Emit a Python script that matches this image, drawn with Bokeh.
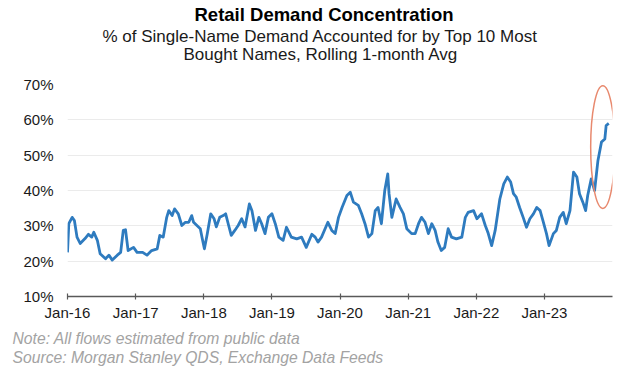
from datetime import datetime
import pandas as pd
from bokeh.plotting import figure
from bokeh.models import (FixedTicker, DatetimeTickFormatter, PrintfTickFormatter,
                          Range1d, Title, ColumnDataSource, LinearAxis,
                          CustomJSTickFormatter)
from bokeh.embed import file_html
from bokeh.resources import INLINE

# ---------------- data ----------------
dates = [
    "2016-01-01", "2016-01-08", "2016-01-26", "2016-02-07", "2016-02-21", "2016-03-09",
    "2016-04-04", "2016-04-22", "2016-05-10", "2016-05-21", "2016-06-09", "2016-06-24",
    "2016-07-23", "2016-08-10", "2016-08-28", "2016-09-24", "2016-10-12", "2016-10-26",
    "2016-11-07", "2016-11-21", "2016-12-20",
    "2017-01-08", "2017-02-07", "2017-03-02", "2017-03-27", "2017-04-26", "2017-05-10",
    "2017-05-28", "2017-06-16", "2017-06-27", "2017-07-15", "2017-07-28", "2017-08-17",
    "2017-09-05", "2017-09-24", "2017-10-12", "2017-10-28", "2017-11-07", "2017-11-25",
    "2017-12-13", "2017-12-24",
    "2018-01-04", "2018-01-19", "2018-02-07", "2018-02-25", "2018-03-09", "2018-03-27",
    "2018-04-15", "2018-04-28", "2018-05-14", "2018-05-28", "2018-06-16", "2018-07-04",
    "2018-07-23", "2018-08-10", "2018-09-02", "2018-09-16", "2018-10-05", "2018-10-23",
    "2018-11-07", "2018-11-25", "2018-12-13",
    "2019-01-01", "2019-01-19", "2019-02-07", "2019-03-02", "2019-03-20", "2019-04-15",
    "2019-05-14", "2019-06-09", "2019-07-04", "2019-08-03", "2019-08-21", "2019-09-05",
    "2019-09-24", "2019-10-28", "2019-11-18", "2019-12-06", "2019-12-24",
    "2020-01-12", "2020-02-07", "2020-02-25", "2020-03-13", "2020-04-08", "2020-04-26",
    "2020-05-14", "2020-06-02", "2020-06-20", "2020-07-08", "2020-07-23", "2020-08-10",
    "2020-08-28", "2020-09-13", "2020-09-20", "2020-10-05", "2020-10-28", "2020-11-18",
    "2020-12-06", "2020-12-24",
    "2021-01-19", "2021-02-07", "2021-02-25", "2021-03-13", "2021-04-01", "2021-04-19",
    "2021-05-07", "2021-05-25", "2021-06-09", "2021-06-27", "2021-07-15", "2021-08-03",
    "2021-08-21", "2021-09-16", "2021-10-15", "2021-11-03", "2021-11-18", "2021-12-17",
    "2022-01-04", "2022-01-29", "2022-02-18", "2022-03-06", "2022-03-24", "2022-04-12",
    "2022-05-07", "2022-05-28", "2022-06-16", "2022-07-04", "2022-07-19", "2022-08-03",
    "2022-08-21", "2022-09-09", "2022-09-27", "2022-10-15", "2022-11-03", "2022-11-21",
    "2022-12-09", "2022-12-24",
    "2023-01-12", "2023-01-26", "2023-02-18", "2023-03-06", "2023-03-24", "2023-04-12",
    "2023-04-28", "2023-05-18", "2023-06-06", "2023-06-24", "2023-07-08", "2023-07-26",
    "2023-08-10", "2023-08-21", "2023-09-09", "2023-09-27", "2023-10-15", "2023-11-03",
    "2023-11-21", "2023-11-28", "2023-12-12",
]
share = [
    22.5, 30.6, 32.4, 31.5, 26.8, 25.0,
    26.4, 27.6, 26.8, 28.2, 25.9, 22.1,
    20.7, 21.7, 20.3, 21.7, 22.5, 28.7,
    28.9, 23.0, 23.9,
    22.5, 22.5, 21.7, 23.0, 23.5, 27.3,
    26.8, 32.4, 34.3, 32.9, 34.8, 33.4,
    30.1, 31.0, 31.0, 32.9, 31.0, 30.1,
    29.2, 26.3,
    23.5, 27.6, 33.4, 32.0, 29.7, 32.4,
    32.9, 33.4, 30.1, 27.3, 28.7, 30.1,
    32.0, 29.7, 36.2, 34.3, 28.7, 32.4,
    30.6, 27.8, 32.4,
    33.4, 30.6, 26.8, 25.9, 29.6, 26.8,
    26.3, 26.8, 23.9, 27.6, 26.8, 25.4,
    26.8, 31.0, 28.7, 27.8, 32.4,
    35.2, 38.6, 39.5, 36.7, 35.8, 33.4,
    30.6, 26.8, 27.8, 34.3, 35.2, 30.6,
    40.0, 44.7, 39.1, 32.4, 37.6, 35.2,
    33.4, 29.2,
    27.8, 27.8, 30.6, 32.4, 31.0, 27.8,
    30.6, 28.7, 25.4, 23.0, 23.9, 29.2,
    26.8, 26.3, 26.8, 32.4, 33.8, 34.3,
    32.0, 33.4, 30.1, 27.8, 24.4, 28.7,
    37.6, 41.9, 43.8, 42.4, 39.1, 38.1,
    35.2, 32.4, 29.6, 32.0, 33.4, 35.2,
    34.3, 31.5,
    27.8, 24.4, 27.8, 28.7, 32.4, 33.8,
    30.6, 34.3, 45.2, 43.8, 39.1, 36.7,
    34.3, 38.6, 43.3, 40.0, 48.5, 53.7,
    54.6, 58.4, 59.0,
]
tick_years = [2016, 2017, 2018, 2019, 2020, 2021, 2022, 2023]
y_ticks = [10, 20, 30, 40, 50, 60, 70]

title = "Retail Demand Concentration"
subtitle_1 = "% of Single-Name Demand Accounted for by Top 10 Most"
subtitle_2 = "Bought Names, Rolling 1-month Avg"
note = "Note:  All flows estimated from public data"
source_txt = "Source: Morgan Stanley QDS, Exchange Data Feeds"

# highlight ellipse around the latest surge
hl_center_date = "2023-11-10"
hl_center_value = 52.3
hl_width_days = 130
hl_height_value = 34.8

FONT = "Liberation Sans"
LINE_BLUE = "#2E7BBF"

# ---------------- figure ----------------
src = ColumnDataSource(dict(date=pd.to_datetime(dates), share=share))

p = figure(width=616, height=368, x_axis_type="datetime",
           output_backend="svg", toolbar_location=None,
           x_range=Range1d(datetime(2016, 1, 1), datetime(2024, 1, 1)),
           y_range=Range1d(10, 70),
           min_border_left=67, min_border_right=4,
           min_border_top=84, min_border_bottom=72)
p.outline_line_color = None
p.background_fill_color = "white"
p.border_fill_color = "white"

p.line("date", "share", source=src, line_color=LINE_BLUE, line_width=2.8,
       line_join="round")

ms_day = 86400000
p.ellipse(x=[pd.Timestamp(hl_center_date)], y=[hl_center_value],
          width=[hl_width_days * ms_day], height=[hl_height_value],
          fill_color=None, line_color="#E8896E", line_width=1.5)

# x axis
year_ticks_ms = [pd.Timestamp(f"{y}-01-01").value / 1e6 for y in tick_years]
p.xaxis.ticker = FixedTicker(ticks=year_ticks_ms)
fmt = "%b-%y"
p.xaxis.formatter = DatetimeTickFormatter(years=fmt, months=fmt, days=fmt, hours=fmt,
                                          minutes=fmt, seconds=fmt, milliseconds=fmt,
                                          microseconds=fmt, hourmin=fmt, minsec=fmt)
p.xaxis.axis_line_color = "#595959"
p.xaxis.axis_line_width = 1.5
p.xaxis.major_tick_line_color = "#595959"
p.xaxis.major_tick_line_width = 1.2
p.xaxis.major_tick_in = 3
p.xaxis.major_tick_out = 3
p.xaxis.minor_tick_line_color = None
p.xaxis.major_label_standoff = 4
p.xaxis.major_label_text_font = FONT
p.xaxis.major_label_text_font_size = "15px"
p.xaxis.major_label_text_color = "#1a1a1a"

# y axis
p.yaxis.ticker = FixedTicker(ticks=y_ticks)
p.yaxis.formatter = PrintfTickFormatter(format="%d%%")
p.yaxis.axis_line_color = None
p.yaxis.major_tick_line_color = None
p.yaxis.major_tick_out = 0
p.yaxis.major_tick_in = 0
p.yaxis.minor_tick_line_color = None
p.yaxis.major_label_standoff = 14
p.yaxis.major_label_text_font = FONT
p.yaxis.major_label_text_font_size = "15px"
p.yaxis.major_label_text_color = "#1a1a1a"

p.xgrid.grid_line_color = None
p.ygrid.ticker = FixedTicker(ticks=y_ticks[1:])
p.ygrid.grid_line_color = "#EBEBEB"
p.ygrid.grid_line_width = 1

# invisible spacer between the plot and the heading block
# (one white tick at the left edge, no line, empty label)
spacer = LinearAxis(ticker=FixedTicker(ticks=year_ticks_ms[:1]),
                    formatter=CustomJSTickFormatter(code="return ''"),
                    axis_line_color=None, major_tick_line_color="white",
                    minor_tick_line_color=None, major_tick_out=27, major_tick_in=0,
                    major_label_standoff=0, major_label_text_font_size="1px",
                    major_label_text_color="white")
p.add_layout(spacer, "above")

# titles above (first added sits closest to the plot)
p.add_layout(Title(text=subtitle_2, align="left", offset=116, standoff=-12,
                   text_font=FONT, text_font_size="17px", text_font_style="normal",
                   text_color="#1a1a1a"), "above")
p.add_layout(Title(text=subtitle_1, align="left", offset=35, standoff=4.6,
                   text_font=FONT, text_font_size="17px", text_font_style="normal",
                   text_color="#1a1a1a"), "above")
p.add_layout(Title(text=title, align="left", offset=127, standoff=-5.2,
                   text_font=FONT, text_font_size="18.5px", text_font_style="bold",
                   text_color="black"), "above")

# notes below
p.add_layout(Title(text=note, align="left", offset=-55, standoff=13, vertical_align="top",
                   text_font=FONT, text_font_size="15.7px", text_font_style="italic",
                   text_color="#A3A3A3"), "below")
p.add_layout(Title(text=source_txt, align="left", offset=-55, standoff=-13, vertical_align="top",
                   text_font=FONT, text_font_size="15.7px", text_font_style="italic",
                   text_color="#A3A3A3"), "below")

open("out.html", "w").write(file_html(p, INLINE))
